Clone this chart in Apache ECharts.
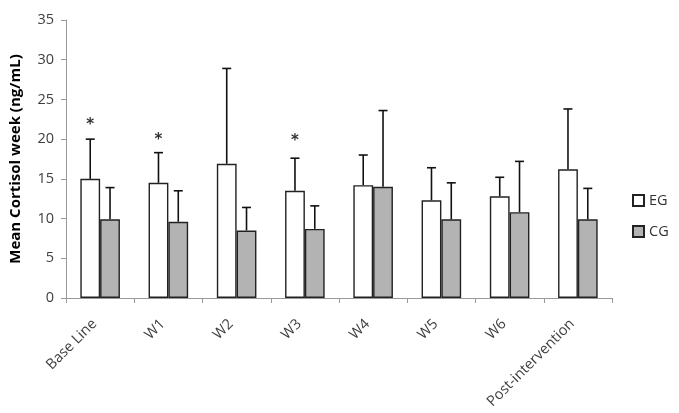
<!DOCTYPE html>
<html><head><meta charset="utf-8">
<script src="https://cdn.jsdelivr.net/npm/echarts@6/dist/echarts.min.js"></script>
<style>html,body{margin:0;padding:0;background:#fff}#c{width:679px;height:413px}</style>
</head><body><div id="c"></div>
<script>
var categories = ['Base Line','W1','W2','W3','W4','W5','W6','Post-intervention'];
var egMean = [15.0, 14.5, 16.9, 13.5, 14.2, 12.3, 12.8, 16.2];
var cgMean = [9.9, 9.6, 8.5, 8.7, 14.0, 9.9, 10.8, 9.9];
var egErrTop = [20.0, 18.3, 28.9, 17.6, 18.0, 16.4, 15.2, 23.8];
var cgErrTop = [13.9, 13.5, 11.4, 11.6, 23.6, 14.5, 17.2, 13.8];
var starPos = [22.3, 20.4, null, 20.3, null, null, null, null];

var BW = 0.29;
function errSeries(means, tops, side){
  var data = means.map(function(m,i){return [i, m, tops[i]];});
  return {
    type:'custom', z:1,
    renderItem:function(params, api){
      var band = api.size([1,0])[0];
      var off = side * band * BW / 2;
      var p0 = api.coord([api.value(0), api.value(1)]);
      var p1 = api.coord([api.value(0), api.value(2)]);
      var x = p0[0] + off;
      var st = {stroke:'#111', lineWidth:1.6};
      return {type:'group', children:[
        {type:'line', shape:{x1:x,y1:p0[1],x2:x,y2:p1[1]}, style:st},
        {type:'line', shape:{x1:x-4.5,y1:p1[1],x2:x+4.5,y2:p1[1]}, style:st}
      ]};
    },
    data:data, silent:true
  };
}
var starData = [];
starPos.forEach(function(v,i){ if(v!=null) starData.push([i,v]); });

var chart = echarts.init(document.getElementById('c'));
chart.setOption({
  animation:false,
  textStyle:{fontFamily:'Open Sans'},
  grid:{left:65, right:67, top:20, bottom:115},
  legend:{
    orient:'vertical', left:627, top:188, itemWidth:11, itemHeight:11, itemGap:16,
    icon:'rect',
    textStyle:{fontSize:14.5, color:'#333', fontFamily:'Open Sans'},
    data:['EG','CG']
  },
  xAxis:{
    type:'category', data:categories,
    axisLine:{lineStyle:{color:'#999', width:1}},
    axisTick:{show:true, length:5, lineStyle:{color:'#999'}},
    axisLabel:{rotate:45, color:'#404040', fontSize:14.5, margin:18, padding:[0,8,0,0], fontFamily:'Open Sans'}
  },
  yAxis:{
    type:'value', min:0, max:35, interval:5,
    name:'Mean Cortisol week (ng/mL)', nameLocation:'middle', nameGap:43,
    nameTextStyle:{fontWeight:'bold', fontSize:15, color:'#000', fontFamily:'Open Sans'},
    axisLine:{show:true, lineStyle:{color:'#999'}},
    axisTick:{show:true, length:5, lineStyle:{color:'#999'}},
    splitLine:{show:false},
    axisLabel:{color:'#404040', fontSize:14.5, margin:12, fontFamily:'Open Sans'}
  },
  series:[
    {name:'EG', type:'bar', data:egMean, barWidth:(BW*100)+'%', barGap:'0%', z:2,
     itemStyle:{color:'#ffffff', borderColor:'#222', borderWidth:1.4}},
    {name:'CG', type:'bar', data:cgMean, barWidth:(BW*100)+'%', z:2,
     itemStyle:{color:'#b3b3b3', borderColor:'#222', borderWidth:1.4}},
    errSeries(egMean, egErrTop, -1),
    errSeries(cgMean, cgErrTop, 1),
    {type:'custom', z:3, silent:true, data:starData,
     renderItem:function(params, api){
       var band = api.size([1,0])[0];
       var p = api.coord([api.value(0), api.value(1)]);
       return {type:'text', x:p[0] - band*BW/2, y:p[1]+4,
         style:{text:'*', fill:'#333', fontSize:15, fontWeight:'bold', fontFamily:'DejaVu Sans', align:'center', verticalAlign:'middle'}};
     }}
  ]
});
</script></body></html>
